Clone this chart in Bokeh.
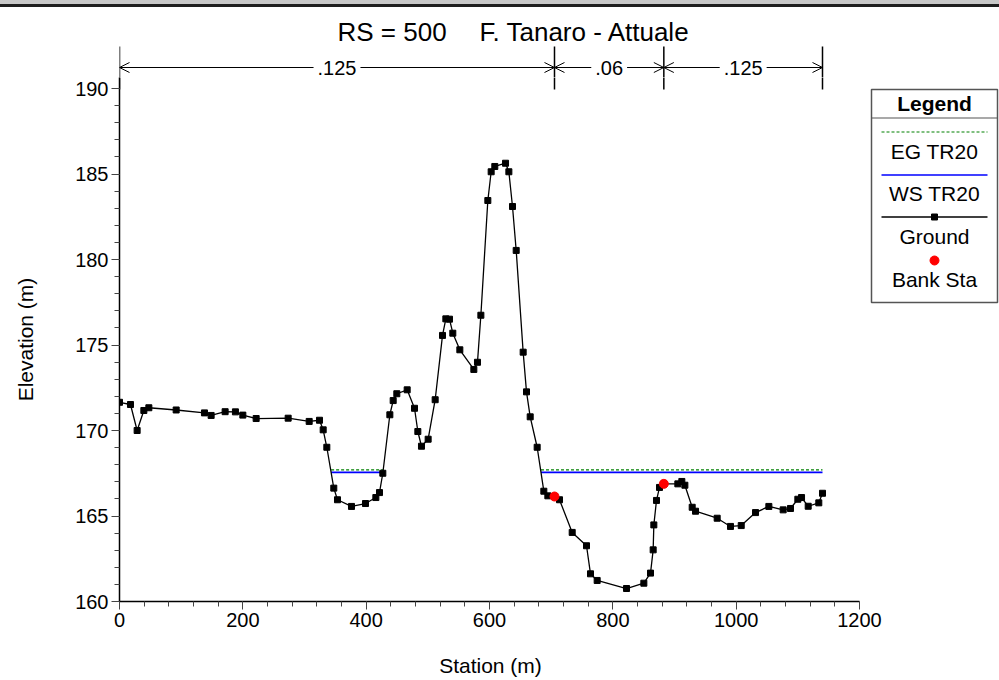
from bokeh.plotting import figure
from bokeh.models import Range1d, FixedTicker, Label, Arrow, OpenHead, Div
from bokeh.layouts import column
from bokeh.embed import file_html
from bokeh.resources import INLINE
from bokeh.core.properties import value

# ---------------- data ----------------
title_rs = "RS = 500"
title_river = "F. Tanaro - Attuale"
x_label = "Station (m)"
y_label = "Elevation (m)"

station = [0.0, 17.8, 28.6, 39.5, 47.6, 91.9, 137.8, 148.6, 171.3, 188.0,
           200.0, 221.6, 273.5, 307.6, 324.3, 330.3, 336.2, 347.5, 353.5, 376.2,
           398.9, 415.7, 421.6, 427.0, 438.4, 443.8, 449.7, 466.5, 478.4, 483.8,
           489.7, 500.5, 511.9, 523.8, 529.2, 535.1, 540.5, 551.9, 574.6, 580.5,
           586.0, 597.3, 602.7, 608.6, 626.0, 631.4, 637.3, 643.3, 654.6, 660.0,
           666.0, 677.3, 688.1, 694.6, 705.4, 713.5, 734.1, 757.3, 763.8, 774.6,
           822.2, 850.3, 861.1, 865.4, 866.5, 870.8, 875.7, 882.7, 905.4, 911.9,
           916.8, 928.7, 934.1, 969.2, 990.8, 1008.2, 1031.4, 1053.0, 1076.2, 1088.1,
           1100.0, 1106.0, 1116.8, 1134.0, 1140.0]
elevation = [171.65, 171.52, 170.00, 171.17, 171.33, 171.20, 171.03, 170.88, 171.10, 171.09,
             170.90, 170.70, 170.72, 170.53, 170.60, 170.04, 169.02, 166.63, 165.95, 165.56,
             165.73, 166.08, 166.37, 167.50, 170.92, 171.75, 172.15, 172.38, 171.30, 169.94,
             169.08, 169.49, 171.80, 175.56, 176.53, 176.51, 175.69, 174.72, 173.57, 173.99,
             176.74, 183.45, 185.13, 185.44, 185.63, 185.13, 183.10, 180.53, 174.58, 172.26,
             170.80, 169.02, 166.45, 166.18, 166.14, 165.95, 164.04, 163.26, 161.62, 161.23,
             160.76, 161.07, 161.66, 163.02, 164.48, 165.91, 166.67, 166.88, 166.88, 167.02,
             166.80, 165.51, 165.28, 164.87, 164.39, 164.44, 165.20, 165.56, 165.36, 165.44,
             165.98, 166.08, 165.57, 165.77, 166.33]

bank_station = [705.4, 882.7]
bank_elevation = [166.14, 166.88]

ws_elev = 167.55   # WS TR20
eg_elev = 167.70   # EG TR20

mann_station = [0.0, 705.4, 882.7]
mann_end = 1140.0
mann_n = [0.125, 0.06, 0.125]

legend_title = "Legend"
legend_labels = ["EG TR20", "WS TR20", "Ground", "Bank Sta"]

x_ticks = list(range(0, 1201, 200))
x_minor = list(range(0, 1201, 40))
y_ticks = list(range(160, 191, 5))
y_minor = list(range(160, 191, 1))

# ---------------- layout helpers (page pixels -> data) ----------------
PX_X0, PX_PER_X = 119.0, 740.0 / 1200.0
PY_Y0, PX_PER_Y = 601.0, 513.0 / 30.0
W, H = 999, 680
LEFT_B = int(PX_X0)
UP_TOP = 7                     # top window border (light + dark band)
SPLIT = 77                     # end of the title / Manning strip
LOW_END = 637                  # end of the main plot (tick labels inside)


def sx(px):
    return (px - PX_X0) / PX_PER_X


def sy(py):
    return 160.0 + (PY_Y0 - py) / PX_PER_Y


FONT = "Liberation Sans"
X_END = sx(W)


def wet_intervals(xs, zs, level):
    out = []
    start = xs[0] if zs[0] < level else None
    for i in range(len(xs) - 1):
        x0, z0, x1, z1 = xs[i], zs[i], xs[i + 1], zs[i + 1]
        b0, b1 = z0 < level, z1 < level
        if b0 != b1:
            xc = x0 + (z0 - level) / (z0 - z1) * (x1 - x0)
            if b1:
                start = xc
            else:
                out.append((start, xc))
                start = None
    if start is not None:
        out.append((start, xs[-1]))
    return out


wet = wet_intervals(station, elevation, ws_elev)
mann_breaks = mann_station + [mann_end]


def bare(height, y0, y1):
    f = figure(width=W, height=height, output_backend="svg", toolbar_location=None,
               title=None, x_axis_location=None, y_axis_location=None,
               x_range=Range1d(0, X_END), y_range=Range1d(y0, y1),
               min_border=0, min_border_left=LEFT_B)
    f.outline_line_color = None
    f.xgrid.visible = False
    f.ygrid.visible = False
    return f


# ---------------- top window border ----------------
band = Div(text="", width=W, height=UP_TOP, margin=0,
           styles={"background-color": "#1e1e1e", "border-top": "4px solid #c8c8c8",
                   "box-sizing": "border-box"})

# ---------------- title + Manning's n strip ----------------
up = bare(SPLIT - UP_TOP, sy(SPLIT), sy(UP_TOP))

up.add_layout(Label(x=sx(337), y=sy(31), text=title_rs, text_align="left", text_baseline="middle",
                    text_font=FONT, text_font_size="26px", text_color="black"))
up.add_layout(Label(x=sx(479), y=sy(31), text=title_river, text_align="left", text_baseline="middle",
                    text_font=FONT, text_font_size="26px", text_color="black"))

y_arrow = sy(67)
up.segment(x0=mann_breaks, x1=mann_breaks, y0=sy(SPLIT + 2), y1=sy(46),
           line_color="black", line_width=1.5)
for i, n in enumerate(mann_n):
    a, b = mann_breaks[i], mann_breaks[i + 1]
    up.add_layout(Arrow(start=OpenHead(size=10, line_width=1, line_color="black"),
                        end=OpenHead(size=10, line_width=1, line_color="black"),
                        x_start=a, x_end=b, y_start=y_arrow, y_end=y_arrow,
                        line_color="black", line_width=1))
for i, n in enumerate(mann_n):
    a, b = mann_breaks[i], mann_breaks[i + 1]
    txt = ("%.3f" % n).rstrip("0").lstrip("0")
    up.add_layout(Label(x=(a + b) / 2, y=y_arrow, text=txt, text_align="center",
                        text_baseline="middle", text_font=FONT, text_font_size="20px",
                        text_color="black", background_fill_color="white", padding=4))

# ---------------- main plot ----------------
p = figure(width=W, height=LOW_END - SPLIT, output_backend="svg", toolbar_location=None,
           title=None, x_range=Range1d(0, X_END), y_range=Range1d(160, sy(SPLIT)),
           min_border_left=LEFT_B, min_border_right=0, min_border_top=0,
           min_border_bottom=int(LOW_END - PY_Y0))
p.outline_line_color = None
p.xgrid.visible = False
p.ygrid.visible = False

for ax in (p.xaxis[0], p.yaxis[0]):
    ax.axis_line_width = 1.5
    ax.axis_line_color = "black"
    ax.major_tick_out = 8
    ax.major_tick_in = 0
    ax.minor_tick_out = 5
    ax.minor_tick_in = 0
    ax.major_tick_line_color = "#444444"
    ax.minor_tick_line_color = "#444444"
    ax.major_label_text_font = FONT
    ax.major_label_text_font_size = "20px"
    ax.major_label_text_color = "black"
    ax.major_label_standoff = 3

p.xaxis.ticker = FixedTicker(ticks=x_ticks, minor_ticks=x_minor)
p.yaxis.ticker = FixedTicker(ticks=y_ticks, minor_ticks=y_minor)
p.xaxis.bounds = (0, 1200)

p.yaxis.axis_label = y_label
p.yaxis.axis_label_text_font = FONT
p.yaxis.axis_label_text_font_size = "21px"
p.yaxis.axis_label_text_font_style = "normal"
p.yaxis.axis_label_text_color = "black"
p.yaxis.axis_label_standoff = 35

# continuation of the Manning's n break lines
p.segment(x0=mann_breaks, x1=mann_breaks, y0=sy(89), y1=sy(SPLIT - 2),
          line_color="black", line_width=1.5)

# EG and WS lines
p.segment(x0=[a for a, b in wet], x1=[b for a, b in wet], y0=eg_elev, y1=eg_elev,
          line_color="#008000", line_width=1.2, line_dash="3 2")
p.segment(x0=[a for a, b in wet], x1=[b for a, b in wet], y0=ws_elev, y1=ws_elev,
          line_color="#0000FF", line_width=1.6)

# ground
p.line(station, elevation, line_color="black", line_width=1.3)
p.scatter(station, elevation, marker="square", size=6, fill_color="black", line_color="black")

# bank stations
p.scatter(bank_station, bank_elevation, marker="circle", size=9,
          fill_color="#FF0000", line_color="#FF0000")

# ---------------- legend (custom box) ----------------
L, R, T, B = 871, 997, 89, 302
cx = (L + R) / 2
p.quad(left=sx(L), right=sx(R), top=sy(T), bottom=sy(B), fill_color="white",
       line_color="#555555", line_width=1.5)
p.segment(x0=sx(L), x1=sx(R), y0=sy(117.5), y1=sy(117.5), line_color="#555555", line_width=1.2)
p.text(x=[sx(cx)], y=[sy(103)], text=[legend_title], text_align="center", text_baseline="middle",
       text_font=value(FONT), text_font_style="bold", text_font_size="21px", text_color="black")
p.segment(x0=sx(L + 10), x1=sx(R - 10), y0=sy(131.5), y1=sy(131.5),
          line_color="#008000", line_width=1.2, line_dash="3 2")
p.segment(x0=sx(L + 10), x1=sx(R - 10), y0=sy(174.5), y1=sy(174.5),
          line_color="#0000FF", line_width=1.6)
p.segment(x0=sx(L + 10), x1=sx(R - 10), y0=sy(216.5), y1=sy(216.5),
          line_color="black", line_width=1.3)
p.scatter([sx(cx)], [sy(216.5)], marker="square", size=6, fill_color="black", line_color="black")
p.scatter([sx(cx)], [sy(260)], marker="circle", size=9, fill_color="#FF0000", line_color="#FF0000")
p.text(x=[sx(cx)] * 4, y=[sy(151), sy(193), sy(235.5), sy(279)], text=legend_labels,
       text_align="center", text_baseline="middle", text_font=value(FONT),
       text_font_size="21px", text_color="black")

# ---------------- x-axis title strip ----------------
bottom = bare(H - LOW_END, sy(H), sy(LOW_END))
bottom.text(x=[sx(490)], y=[sy(665)], text=[x_label], text_align="center", text_baseline="middle",
            text_font=value(FONT), text_font_size="21px", text_color="black")

layout = column(band, up, p, bottom, spacing=0)

open("out.html", "w").write(file_html(layout, INLINE))
